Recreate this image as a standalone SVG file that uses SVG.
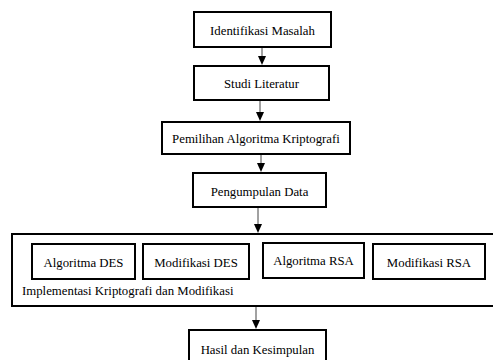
<svg xmlns="http://www.w3.org/2000/svg" width="493" height="360" viewBox="0 0 493 360">
<style>
rect.b{fill:#fff;stroke:#000;stroke-width:2}
text{font-family:'Liberation Serif','DejaVu Serif',serif;font-size:12.8px;fill:#000}
.c{text-anchor:middle}
.e{stroke:#444;stroke-width:1;fill:none}
.h{fill:#000}
</style>
<rect width="493" height="360" fill="#fff"/>
<g id="connectors">
<line class="e" x1="262" y1="47" x2="262" y2="56"/><path class="h" d="M258,56 L266,56 L262,65 Z"/>
<line class="e" x1="260" y1="100" x2="260" y2="112"/><path class="h" d="M256,112 L264,112 L260,121 Z"/>
<line class="e" x1="261" y1="154" x2="261" y2="163"/><path class="h" d="M257,163 L265,163 L261,172 Z"/>
<line class="e" x1="258" y1="207" x2="258" y2="224"/><path class="h" d="M254,224 L262,224 L258,233 Z"/>
<line class="e" x1="256" y1="306" x2="256" y2="320"/><path class="h" d="M252,320 L260,320 L256,329 Z"/>
</g>
<g id="n1"><rect class="b" x="194" y="12" width="137" height="35"/><text class="c" x="262.5" y="35">Identifikasi Masalah</text></g>
<g id="n2"><rect class="b" x="194" y="66" width="135" height="34"/><text class="c" x="261.5" y="88">Studi Literatur</text></g>
<g id="n3"><rect class="b" x="162" y="122" width="188" height="32"/><text class="c" x="256" y="143">Pemilihan Algoritma Kriptografi</text></g>
<g id="n4"><rect class="b" x="193" y="173" width="133" height="34"/><text class="c" x="259.5" y="196">Pengumpulan Data</text></g>
<g id="n5"><rect class="b" x="12" y="234" width="484" height="72"/><text x="22" y="295">Implementasi Kriptografi dan Modifikasi</text></g>
<g id="n6"><rect class="b" x="32" y="244" width="103" height="35"/><text class="c" x="83.5" y="267">Algoritma DES</text></g>
<g id="n7"><rect class="b" x="143" y="244" width="106" height="35"/><text class="c" x="196" y="267">Modifikasi DES</text></g>
<g id="n8"><rect class="b" x="263" y="243" width="101" height="35"/><text class="c" x="313.5" y="265">Algoritma RSA</text></g>
<g id="n9"><rect class="b" x="373" y="244" width="112" height="35"/><text class="c" x="429" y="267">Modifikasi RSA</text></g>
<g id="n10"><rect class="b" x="189" y="330" width="137" height="33"/><text class="c" x="257.5" y="354">Hasil dan Kesimpulan</text></g>
</svg>
